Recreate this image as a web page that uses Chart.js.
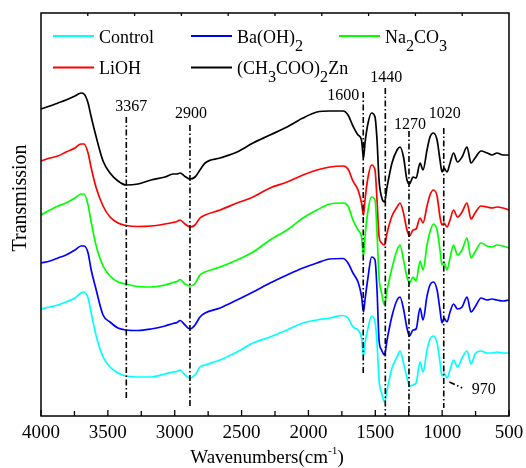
<!DOCTYPE html>
<html lang="en">
<head>
<meta charset="UTF-8">
<title>FTIR spectra</title>
<script src="https://cdn.jsdelivr.net/npm/chart.js"></script>
<style>
  html, body { margin: 0; padding: 0; background: #fff; }
  #wrap { width: 526px; height: 468px; }
</style>
</head>
<body>
<div id="wrap"><canvas id="ftirChart" width="526" height="468"></canvas></div>
<script>
// wavenumber (cm-1) and transmission (arbitrary units)
const wavenumbers = [4000, 3933, 3873, 3813, 3746, 3701, 3678, 3648, 3626, 3589,
  3536, 3484, 3424, 3364, 3275, 3177, 3073, 3013, 2983, 2960,
  2923, 2886, 2848, 2811, 2773, 2661, 2534, 2414, 2287, 2160,
  2041, 1936, 1839, 1741, 1704, 1667, 1629, 1603, 1588, 1577,
  1554, 1528, 1502, 1487, 1472, 1453, 1431, 1412, 1375, 1337,
  1315, 1289, 1263, 1244, 1218, 1195, 1165, 1143, 1113, 1091,
  1065, 1038, 1016, 1001, 986, 964, 941, 915, 885, 851,
  814, 784, 754, 709, 664, 627, 590, 545, 500];

const control = [107, 109, 111, 114, 118, 123, 124, 118, 104, 81,
  59, 49, 43, 40, 39, 39, 42, 44, 44.5, 46,
  41, 38, 41, 49, 51, 56, 64, 73, 79, 86,
  93, 96, 98, 100.5, 98, 89, 86, 78, 60, 73,
  88, 100, 94, 73, 36, 23, 14, 26, 48, 59,
  65, 53, 38, 30, 31, 33, 54, 44, 66, 77,
  80, 73, 54, 40, 43, 38, 46, 56, 49, 58,
  65, 52, 62, 65, 63, 63, 64, 63, 63];

const baOH2 = [153, 155, 158, 161, 166, 170, 170, 163, 147, 127,
  101, 94, 88, 86, 85.5, 87, 90, 92.5, 93.5, 95.5,
  91, 87, 91, 99, 103, 108, 116, 124, 133, 141,
  148, 153, 157, 157.5, 153, 143, 134, 120, 104, 116,
  139, 159, 156, 126, 76, 66, 61, 76, 100, 116,
  119, 107, 88, 80, 86, 87, 108, 96, 120, 131,
  134, 126, 106, 93, 98, 94, 104, 112, 107, 109,
  119, 104, 109, 118, 116, 117, 116, 115, 116];

const na2CO3 = [201, 206, 210, 213, 218, 222, 222, 211, 195, 171,
  150, 140, 134, 132, 129.5, 129, 131, 133.5, 134.5, 136.5,
  132, 130, 132.5, 141, 144, 149, 156, 164, 176, 186,
  198, 206, 212, 213, 210, 196, 186, 179, 160, 179,
  206, 219, 216, 183, 139, 123, 111, 126, 148, 166,
  171, 156, 139, 133, 139, 135, 155, 146, 171, 184,
  192, 186, 166, 151, 154, 146, 158, 171, 161, 166,
  178, 158, 164, 173, 170, 169, 171, 170, 168];

const liOH = [255, 258, 260, 264, 268, 272, 272, 263, 249, 229,
  210, 199, 193, 190.5, 189.5, 190, 192, 193.5, 194.5, 196,
  192, 189, 191, 198, 201, 206, 213, 219, 228, 234,
  241, 246, 249, 250, 247, 235, 226, 213, 201, 216,
  239, 251, 246, 216, 180, 173, 171, 183, 200, 209,
  213, 203, 186, 180, 186, 187, 198, 193, 210, 221,
  226, 220, 199, 191, 193, 189, 196, 206, 199, 204,
  213, 197, 203, 210, 209, 208, 209, 208, 206];

const znAc = [307, 310, 313, 316, 320, 323, 322, 313, 300, 280,
  255, 243, 235, 231, 232, 236, 239, 242, 242, 243,
  239.5, 237, 239, 246, 253, 258, 264, 273, 281, 289,
  298, 304, 305, 305, 301, 290, 281, 276, 258, 273,
  293, 303, 299, 276, 236, 219, 214, 229, 253, 266,
  269, 259, 236, 232, 239, 238, 253, 246, 266, 279,
  283, 276, 256, 244, 248, 244, 253, 263, 254, 259,
  269, 253, 258, 265, 263, 261, 263, 261, 261];

const seriesNames = ['Control', 'Ba(OH)_2', 'Na_2CO_3', 'LiOH', '(CH_3COO)_2Zn'];
const seriesData = [control, baOH2, na2CO3, liOH, znAc];
const seriesColors = ['#00ffff', '#0000ff', '#00ff00', '#ff0000', '#000000'];

// dash-dot band markers: label, wavenumber, top / bottom of the line, label baseline
const bandLabels = ['3367', '2900', '1600', '1440', '1270', '1020'];
const bandAt = [3362, 2886, 1590, 1425, 1248, 988];
const bandTop = [299, 291, 324, 328, 285, 288];
const bandBottom = [17, 10, 41, 0, 1, 8];
const bandText = [305, 298, 316, 334, 287, 298];

const SERIF = '"Liberation Serif", "Times New Roman", serif';

function richWidth(ctx, str, size) {
  let w = 0;
  str.split(/([_^][-\d]+)/).filter(Boolean).forEach(p => {
    let s = p, fs = size;
    if (p[0] === '_') { s = p.slice(1); fs = size * 0.9; }
    else if (p[0] === '^') { s = p.slice(1); fs = size * 0.6; }
    ctx.font = fs + 'px ' + SERIF;
    w += ctx.measureText(s).width;
  });
  return w;
}

function drawRich(ctx, str, x, yBase, size) {
  str.split(/([_^][-\d]+)/).filter(Boolean).forEach(p => {
    let s = p, dy = 0, fs = size;
    if (p[0] === '_') { s = p.slice(1); dy = size * 0.45; fs = size * 0.9; }
    else if (p[0] === '^') { s = p.slice(1); dy = -size * 0.45; fs = size * 0.6; }
    ctx.font = fs + 'px ' + SERIF;
    ctx.fillText(s, x, yBase + dy);
    x += ctx.measureText(s).width;
  });
  return x;
}

const decorations = {
  id: 'decorations',
  afterDraw(chart) {
    const { ctx, chartArea: a, scales: { x, y } } = chart;
    ctx.save();
    ctx.fillStyle = '#000';
    ctx.strokeStyle = '#000';
    ctx.textBaseline = 'alphabetic';

    // band markers
    ctx.lineWidth = 1.6;
    ctx.setLineDash([6, 2.5, 1.5, 2.5]);
    bandAt.forEach((wn, i) => {
      const px = x.getPixelForValue(wn);
      ctx.beginPath();
      ctx.moveTo(px, y.getPixelForValue(bandTop[i]));
      ctx.lineTo(px, y.getPixelForValue(bandBottom[i]));
      ctx.stroke();
    });
    // 970 leader
    ctx.beginPath();
    ctx.moveTo(x.getPixelForValue(946), y.getPixelForValue(34));
    ctx.lineTo(x.getPixelForValue(850), y.getPixelForValue(28));
    ctx.stroke();
    ctx.setLineDash([]);

    ctx.font = '16px ' + SERIF;
    bandLabels.forEach((t, i) => {
      const px = x.getPixelForValue(bandAt[i]);
      const py = y.getPixelForValue(bandText[i]);
      if (t === '1600') { ctx.textAlign = 'right'; ctx.fillText(t, px - 4, py); }
      else if (t === '3367') { ctx.textAlign = 'center'; ctx.fillText(t, px + 5, py); }
      else { ctx.textAlign = 'center'; ctx.fillText(t, px + 1, py); }
    });
    ctx.textAlign = 'left';
    ctx.fillText('970', x.getPixelForValue(779), y.getPixelForValue(22));

    // frame
    ctx.lineWidth = 1.5;
    ctx.strokeRect(a.left, a.top, a.right - a.left, a.bottom - a.top);

    // bottom ticks every 250, inward
    ctx.lineWidth = 1.3;
    for (let wn = 500; wn <= 4000; wn += 250) {
      const px = x.getPixelForValue(wn);
      const len = wn % 500 === 0 ? 6 : 5;
      ctx.beginPath();
      ctx.moveTo(px, a.bottom);
      ctx.lineTo(px, a.bottom - len);
      ctx.stroke();
    }
    // top ticks (10 divisions)
    for (let k = 1; k < 10; k++) {
      const px = a.left + (a.right - a.left) * k / 10;
      ctx.beginPath();
      ctx.moveTo(px, a.top);
      ctx.lineTo(px, a.top + 3);
      ctx.stroke();
    }

    // legend
    const cols = [53, 191, 339];
    const rows = [42.5, 74];
    ctx.lineWidth = 2;
    seriesNames.forEach((name, i) => {
      const cx = cols[i % 3], by = rows[Math.floor(i / 3)];
      ctx.strokeStyle = seriesColors[i];
      ctx.beginPath();
      ctx.moveTo(cx, by - 6.5);
      ctx.lineTo(cx + 41, by - 6.5);
      ctx.stroke();
      drawRich(ctx, name, cx + 46, by, 18);
    });

    // axis titles
    const xt = 'Wavenumbers(cm^-1)';
    const w = richWidth(ctx, xt, 19);
    drawRich(ctx, xt, (a.left + a.right) / 2 - 8 - w / 2, 463, 19);

    ctx.translate(26, 198);
    ctx.rotate(-Math.PI / 2);
    ctx.textAlign = 'center';
    ctx.font = '20px ' + SERIF;
    ctx.fillText('Transmission', 0, 0);
    ctx.restore();
  }
};

new Chart(document.getElementById('ftirChart'), {
  type: 'line',
  data: {
    datasets: seriesNames.map((name, i) => ({
      label: name,
      data: wavenumbers.map((wn, j) => ({ x: wn, y: seriesData[i][j] })),
      borderColor: seriesColors[i],
      borderWidth: 1.7,
      pointRadius: 0,
      fill: false,
      cubicInterpolationMode: 'monotone'
    }))
  },
  options: {
    responsive: false,
    animation: false,
    devicePixelRatio: 1,
    layout: { padding: { left: 0, right: 17, top: 13, bottom: 0 } },
    plugins: { legend: { display: false }, tooltip: { enabled: false } },
    scales: {
      x: {
        type: 'linear',
        reverse: true,
        min: 500,
        max: 4000,
        grid: { display: false, drawTicks: false },
        border: { display: false },
        ticks: { stepSize: 500, padding: 6, color: '#000', maxRotation: 0,
                 font: { family: SERIF, size: 19 },
                 callback: v => String(v) },
        afterFit(scale) { scale.height = 52; scale.paddingLeft = 0; scale.paddingRight = 0; }
      },
      y: {
        min: 0,
        max: 403,
        grid: { display: false, drawTicks: false },
        border: { display: false },
        ticks: { display: false },
        afterFit(scale) { scale.width = 41; }
      }
    }
  },
  plugins: [decorations]
});
</script>
</body>
</html>
